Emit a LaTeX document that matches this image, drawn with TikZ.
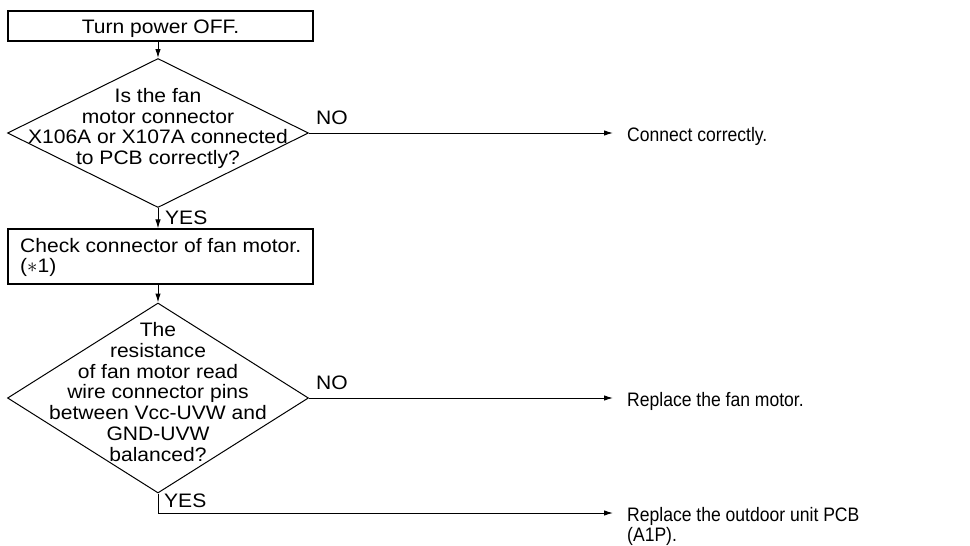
\documentclass[tikz,border=0pt]{standalone}
\usepackage{fontspec}
\setmainfont{Liberation Sans}
\newfontfamily\widefont[FakeStretch=1.08]{Liberation Sans}
\newfontfamily\narrowfont[FakeStretch=0.9]{Liberation Sans}
\usetikzlibrary{shapes.geometric,arrows.meta}
\tikzset{
  boxnode/.style={draw, line width=1.1pt, inner sep=0pt, minimum width=305pt},
  dia/.style={draw, diamond, line width=1pt, inner sep=0pt},
  diatext/.style={align=center, inner sep=0pt, font=\widefont\fontsize{19.5}{20.8}\selectfont},
  lbl/.style={inner sep=0pt, font=\widefont\fontsize{19.5}{20.8}\selectfont},
  outtext/.style={anchor=west, align=left, inner sep=0pt, font=\narrowfont\fontsize{19.5}{16.5}\selectfont},
  conn/.style={line width=1pt},
  arr/.style={line width=1pt, -{Latex[length=9pt,width=5.5pt]}}
}
\begin{document}
\begin{tikzpicture}[x=1pt,y=-1pt]
\useasboundingbox (0,0) rectangle (970,546);
% boxes
\node[boxnode, minimum height=30pt] (b1) at (160.5,26) {};
\node[lbl, anchor=base] (bt1) at (160.5,33) {Turn power OFF.};
\node[boxnode, minimum height=55pt] (b2) at (160.5,256.5) {};
\node[lbl, anchor=base west, align=left, font=\widefont\fontsize{19.5}{20}\selectfont] (bt2) at (20,272) {Check connector of fan motor.\\($\ast$1)};
% diamonds
\node[dia, minimum width=301pt, minimum height=149pt] (d1) at (158,133) {};
\node[diatext] (t1) at (158,128.5) {Is the fan\\motor connector\\X106A or X107A connected\\to PCB correctly?};
\node[dia, minimum width=301pt, minimum height=190pt] (d2) at (158,398) {};
\node[diatext] (t2) at (158,392) {The\\resistance\\of fan motor read\\wire connector pins\\between Vcc-UVW and\\GND-UVW\\balanced?};
% outcomes
\node[outtext] (o1) at (627,136) {Connect correctly.};
\node[outtext] (o2) at (627,401) {Replace the fan motor.};
\node[outtext] (o3) at (627,526.5) {Replace the outdoor unit PCB\\(A1P).};
% labels
\node[lbl] (no1) at (332,118) {NO};
\node[lbl] (no2) at (332,383) {NO};
\node[lbl, anchor=west] (yes1) at (165,217.5) {YES};
\node[lbl, anchor=west] (yes2) at (164,500.5) {YES};
\coordinate (c3) at (158,513);
% connectors
\draw[arr] (b1.south -| d1.north) -- (d1.north);
\draw[arr] (d1.south) -- (b2.north -| d1.south);
\draw[arr] (b2.south -| d2.north) -- (d2.north);
\draw[arr] (d1.east) -- ([xshift=-14pt]d1.east -| o1.west);
\draw[arr] (d2.east) -- ([xshift=-14pt]d2.east -| o2.west);
\draw[conn] (d2.south) -- (c3);
\draw[arr] (c3) -- ([xshift=-14pt]c3 -| o3.west);
\end{tikzpicture}
\end{document}
